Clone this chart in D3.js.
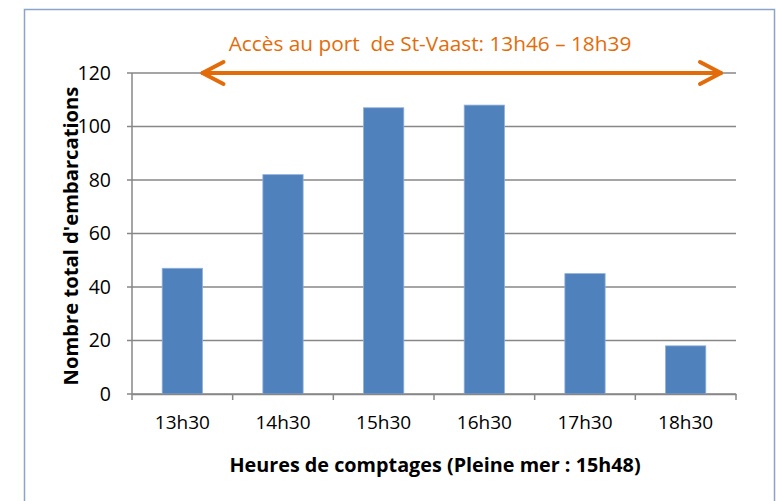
<!DOCTYPE html>
<html>
<head>
<meta charset="utf-8">
<script src="https://cdn.jsdelivr.net/npm/d3@7"></script>
<style>
  body { margin: 0; background: #fff; }
  text { font-family: "Open Sans", "Noto Sans", sans-serif; }
</style>
</head>
<body>
<script>
// data
var hours = ["13h30", "14h30", "15h30", "16h30", "17h30", "18h30"];
var boats = [47, 82, 107, 108, 45, 18];
var yTicks = [0, 20, 40, 60, 80, 100, 120];
var accessWindow = ["13h46", "18h39"];

var W = 776, H = 501;
var margin = {top: 73, left: 132};
var width = 736 - margin.left,
    height = 394 - margin.top;

var svg = d3.select("body").append("svg")
    .attr("width", W)
    .attr("height", H);

// frame round the chart
svg.append("rect")
    .attr("x", 24.5).attr("y", 9.5)
    .attr("width", 750).attr("height", 520)
    .attr("fill", "none")
    .attr("stroke", "#8aa5c8")
    .attr("stroke-width", 1.5);

var g = svg.append("g")
    .attr("transform", "translate(" + margin.left + "," + margin.top + ")");

// bars scale and category scale (for ticks / labels)
var xScale = d3.scaleBand()
    .domain(hours)
    .range([0, width])
    .paddingInner(0.6)
    .paddingOuter(0.3);

var xBand = d3.scaleBand().domain(hours).range([0, width]);

var yScale = d3.scaleLinear()
    .domain([0, 120])
    .range([height, 0]);

// gridlines
g.append("g")
    .selectAll("line")
    .data(yTicks)
    .enter()
    .append("line")
    .attr("x1", -5).attr("x2", width)
    .attr("y1", function(d) { return yScale(d); })
    .attr("y2", function(d) { return yScale(d); })
    .attr("stroke", "#878787")
    .attr("stroke-width", 1.5);

// y axis
var yAxis = g.append("g")
    .call(d3.axisLeft(yScale).tickValues(yTicks).tickSize(0).tickPadding(21));
yAxis.select(".domain").remove();
yAxis.selectAll("text")
    .style("font-size", "19.5px")
    .attr("fill", "#000");
g.append("line")
    .attr("x1", 0).attr("x2", 0)
    .attr("y1", 0).attr("y2", height)
    .attr("stroke", "#878787").attr("stroke-width", 1.5);

// bars
g.selectAll(".bar")
    .data(boats)
    .enter()
    .append("rect")
    .attr("class", "bar")
    .attr("x", function(d, i) { return xScale(hours[i]); })
    .attr("y", function(d) { return yScale(d); })
    .attr("width", xScale.bandwidth())
    .attr("height", function(d) { return height - yScale(d); })
    .attr("fill", "#4f81bd")
    .attr("stroke", "#8fb0da")
    .attr("stroke-width", 0.8);

// x axis
var xAxis = g.append("g")
    .attr("transform", "translate(0," + height + ")")
    .call(d3.axisBottom(xBand).tickSize(0).tickPadding(22));
xAxis.select(".domain")
    .attr("stroke", "#878787").attr("stroke-width", 1.5);
xAxis.selectAll("text")
    .style("font-size", "19px")
    .attr("fill", "#000");

// tick marks between categories
g.append("g")
    .selectAll("line")
    .data(d3.range(hours.length + 1))
    .enter()
    .append("line")
    .attr("x1", function(i) { return i * xBand.step(); })
    .attr("x2", function(i) { return i * xBand.step(); })
    .attr("y1", height).attr("y2", height + 6)
    .attr("stroke", "#878787").attr("stroke-width", 1.5);

// axis titles
svg.append("text")
    .attr("x", 435).attr("y", 472)
    .attr("text-anchor", "middle")
    .style("font-size", "19.8px")
    .attr("font-weight", "bold")
    .text("Heures de comptages (Pleine mer : 15h48)");

svg.append("text")
    .attr("transform", "translate(78,236) rotate(-90)")
    .attr("text-anchor", "middle")
    .style("font-size", "20.2px")
    .attr("font-weight", "bold")
    .text("Nombre total d'embarcations");

// access window arrow (double headed, open chevrons)
var orange = "#e36c0a";
var ax1 = xBand(hours[0]) + xBand.bandwidth() * 0.7,
    ax2 = width - 15,
    ay = yScale(120);
var arrow = g.append("g")
    .attr("stroke", orange)
    .attr("stroke-width", 4)
    .attr("fill", "none")
    .attr("stroke-linecap", "round")
    .attr("stroke-linejoin", "round");
arrow.append("line")
    .attr("x1", ax1).attr("x2", ax2)
    .attr("y1", ay).attr("y2", ay);
arrow.append("path")
    .attr("d", "M" + (ax1 + 21) + "," + (ay - 11) + "L" + ax1 + "," + ay + "L" + (ax1 + 21) + "," + (ay + 11));
arrow.append("path")
    .attr("d", "M" + (ax2 - 21) + "," + (ay - 11) + "L" + ax2 + "," + ay + "L" + (ax2 - 21) + "," + (ay + 11));

svg.append("text")
    .attr("x", 430).attr("y", 51)
    .attr("text-anchor", "middle")
    .attr("fill", orange)
    .style("font-size", "20.8px")
    .style("white-space", "pre")
    .text("Accès au port  de St-Vaast: " + accessWindow[0] + " – " + accessWindow[1]);
</script>
</body>
</html>
